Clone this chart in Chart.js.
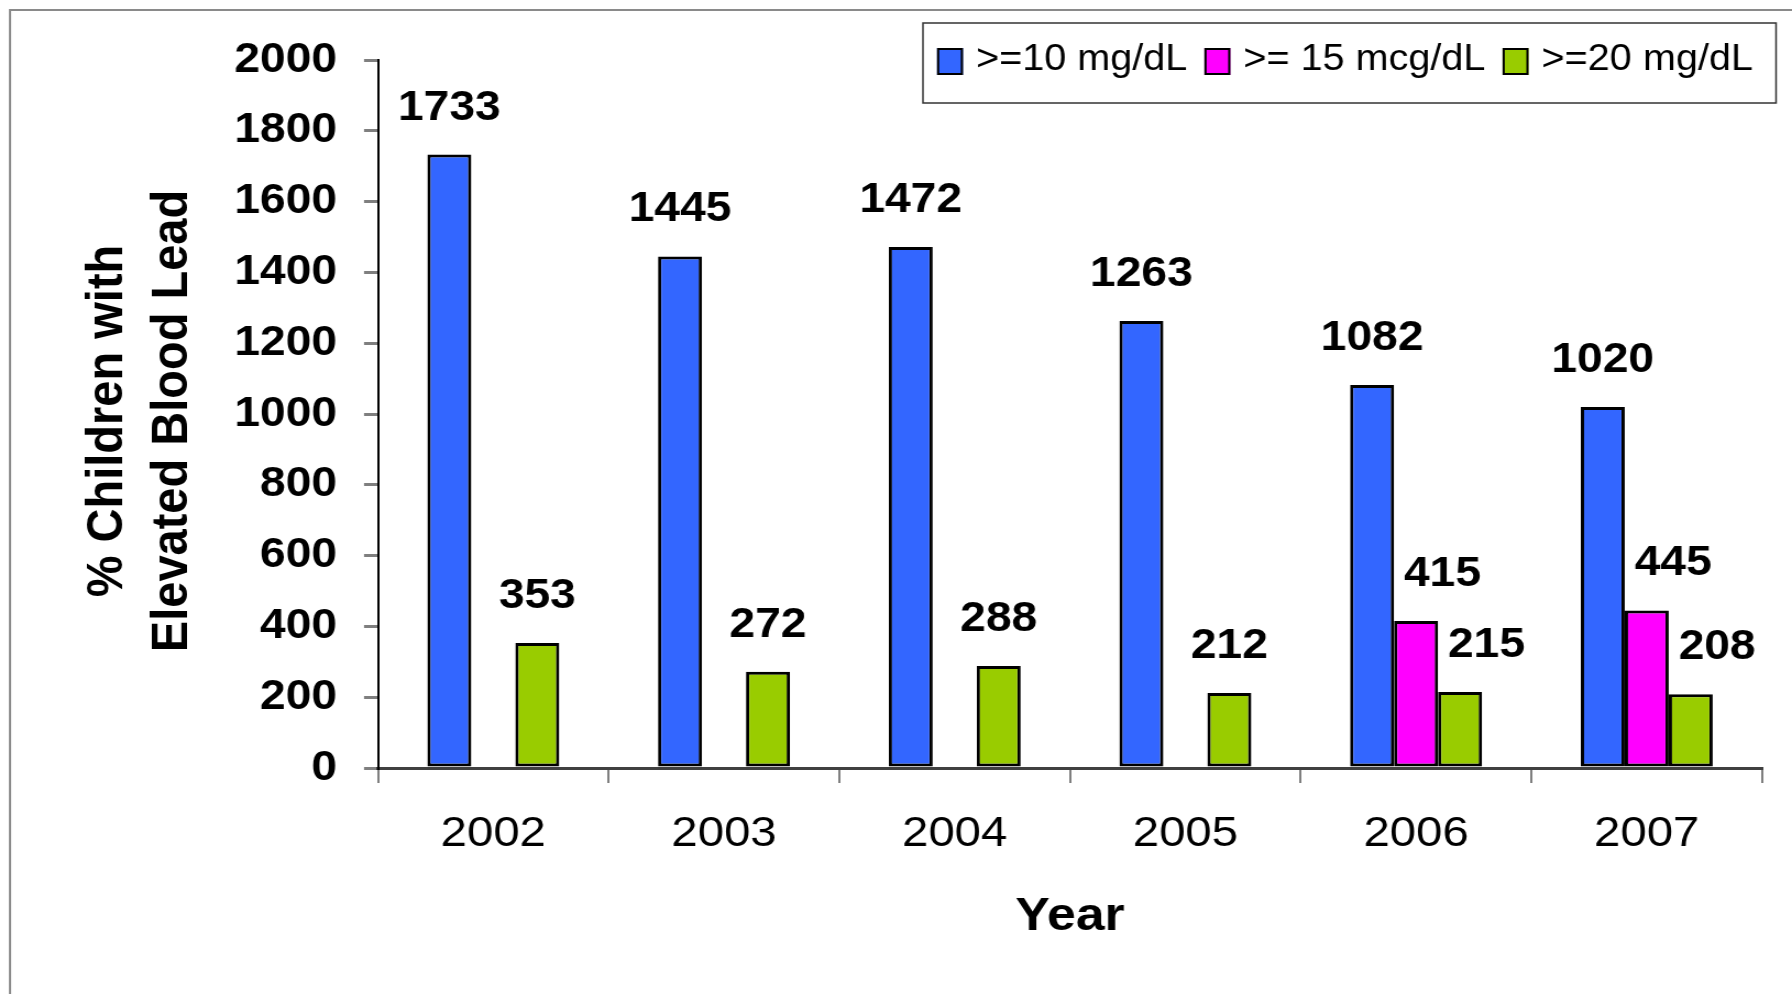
<!DOCTYPE html>
<html>
<head>
<meta charset="utf-8">
<script src="https://cdn.jsdelivr.net/npm/chart.js@4.4.1/dist/chart.umd.min.js"></script>
<style>
html,body{margin:0;padding:0;background:#ffffff;overflow:hidden}
canvas{display:block}
</style>
</head>
<body>
<canvas id="c" width="1629" height="994" style="width:1792px;height:994px"></canvas>
<script>
// ---- data ----
const years = ['2002', '2003', '2004', '2005', '2006', '2007'];
const seriesNames = ['>=10 mg/dL', '>= 15 mcg/dL', '>=20 mg/dL'];
const over10 = [1733, 1445, 1472, 1263, 1082, 1020];
const over15 = [null, null, null, null, 415, 445];
const over20 = [353, 272, 288, 212, 215, 208];
const yMin = 0, yMax = 2000, yStep = 200;
const yTitle = ['% Children with', 'Elevated Blood Lead'];
const xTitle = 'Year';

// ---- style ----
const FONT = '"Liberation Sans", Arial, Helvetica, sans-serif';
const colors = ['#3366FF', '#FF00FF', '#99CC00'];

const framePlugin = {
  id: 'frame',
  beforeDraw(chart) {
    const ctx = chart.ctx;
    ctx.save();
    ctx.strokeStyle = '#8a8a8a';
    ctx.lineWidth = 2;
    ctx.beginPath();
    ctx.moveTo(9.1, chart.height + 5);
    ctx.lineTo(9.1, 10);
    ctx.lineTo(chart.width + 5, 10);
    ctx.stroke();
    ctx.restore();
  }
};

const yTitlePlugin = {
  id: 'yTitle',
  afterDraw(chart) {
    const ctx = chart.ctx;
    const area = chart.chartArea;
    const cy = (area.top + area.bottom) / 2 + 7;
    ctx.save();
    ctx.font = 'bold 47px ' + FONT;
    ctx.fillStyle = '#000';
    ctx.textAlign = 'center';
    ctx.textBaseline = 'middle';
    yTitle.forEach((line, k) => {
      ctx.save();
      ctx.translate(98 + k * 59, cy);
      ctx.rotate(-Math.PI / 2);
      ctx.fillText(line, 0, 0);
      ctx.restore();
    });
    ctx.restore();
  }
};

const valueLabels = {
  id: 'valueLabels',
  afterDatasetsDraw(chart) {
    const ctx = chart.ctx;
    ctx.save();
    ctx.font = 'bold 42px ' + FONT;
    ctx.fillStyle = '#000';
    ctx.textAlign = 'center';
    ctx.textBaseline = 'alphabetic';
    chart.data.datasets.forEach((ds, di) => {
      const meta = chart.getDatasetMeta(di);
      meta.data.forEach((el, i) => {
        const v = ds.data[i];
        if (v === null || v === undefined) return;
        const crowded = over15[i] !== null && di > 0;
        const shift = crowded ? 24 : 0;
        ctx.fillText(String(v), el.x + shift, el.y - 35);
      });
    });
    ctx.restore();
  }
};

const boxLegend = {
  id: 'boxLegend',
  afterDraw(chart) {
    const ctx = chart.ctx;
    ctx.save();
    ctx.strokeStyle = '#333';
    ctx.lineWidth = 1.5;
    ctx.strokeRect(839, 23, 775.5, 80);
    ctx.font = '36px ' + FONT;
    ctx.textBaseline = 'alphabetic';
    ctx.textAlign = 'left';
    let x = 851.8;
    chart.data.datasets.forEach((ds) => {
      ctx.fillStyle = ds.backgroundColor;
      ctx.fillRect(x, 48, 23.6, 27);
      ctx.strokeStyle = '#000';
      ctx.lineWidth = 2;
      ctx.strokeRect(x + 1, 49, 21.6, 25);
      const tx = x + 23.6 + 11.8;
      ctx.fillStyle = '#000';
      ctx.fillText(ds.label, tx, 70);
      x = tx + ctx.measureText(ds.label).width + 15.5;
    });
    ctx.restore();
  }
};

const seriesData = [over10, over15, over20];

new Chart(document.getElementById('c').getContext('2d'), {
  type: 'bar',
  data: {
    labels: years,
    datasets: seriesData.map((d, k) => ({
      label: seriesNames[k],
      data: d,
      backgroundColor: colors[k],
      borderColor: '#000',
      borderWidth: 3,
      borderSkipped: false,
      categoryPercentage: 0.572,
      barPercentage: 1.0
    }))
  },
  options: {
    responsive: false,
    animation: false,
    devicePixelRatio: 1,
    layout: { padding: { left: 0, right: 27.2, top: 60, bottom: 0 } },
    plugins: { legend: { display: false }, tooltip: { enabled: false } },
    scales: {
      x: {
        grid: { display: true, drawOnChartArea: false, drawTicks: true, tickLength: 15, color: '#7f7f7f', lineWidth: 2, offset: true },
        border: { display: true, color: '#404040', width: 3 },
        ticks: { color: '#000', font: { family: FONT, size: 43 }, padding: 25, maxRotation: 0 },
        title: { display: true, text: xTitle, color: '#000', font: { family: FONT, size: 47, weight: 'bold' }, padding: { top: 0, bottom: 49 } },
        afterFit(s) { s.height = 226; }
      },
      y: {
        min: yMin, max: yMax,
        ticks: { stepSize: yStep, color: '#000', font: { family: FONT, size: 42, weight: 'bold' }, padding: 24.5,
                 callback: (v) => String(v) },
        grid: { display: true, drawOnChartArea: false, drawTicks: true, tickLength: 12.7, color: '#7f7f7f', lineWidth: 3 },
        border: { display: true, color: '#000', width: 2 },
        title: { display: false },
        afterFit(s) { s.width = 343.6; }
      }
    }
  },
  plugins: [framePlugin, valueLabels, boxLegend, yTitlePlugin]
});
</script>
</body>
</html>
